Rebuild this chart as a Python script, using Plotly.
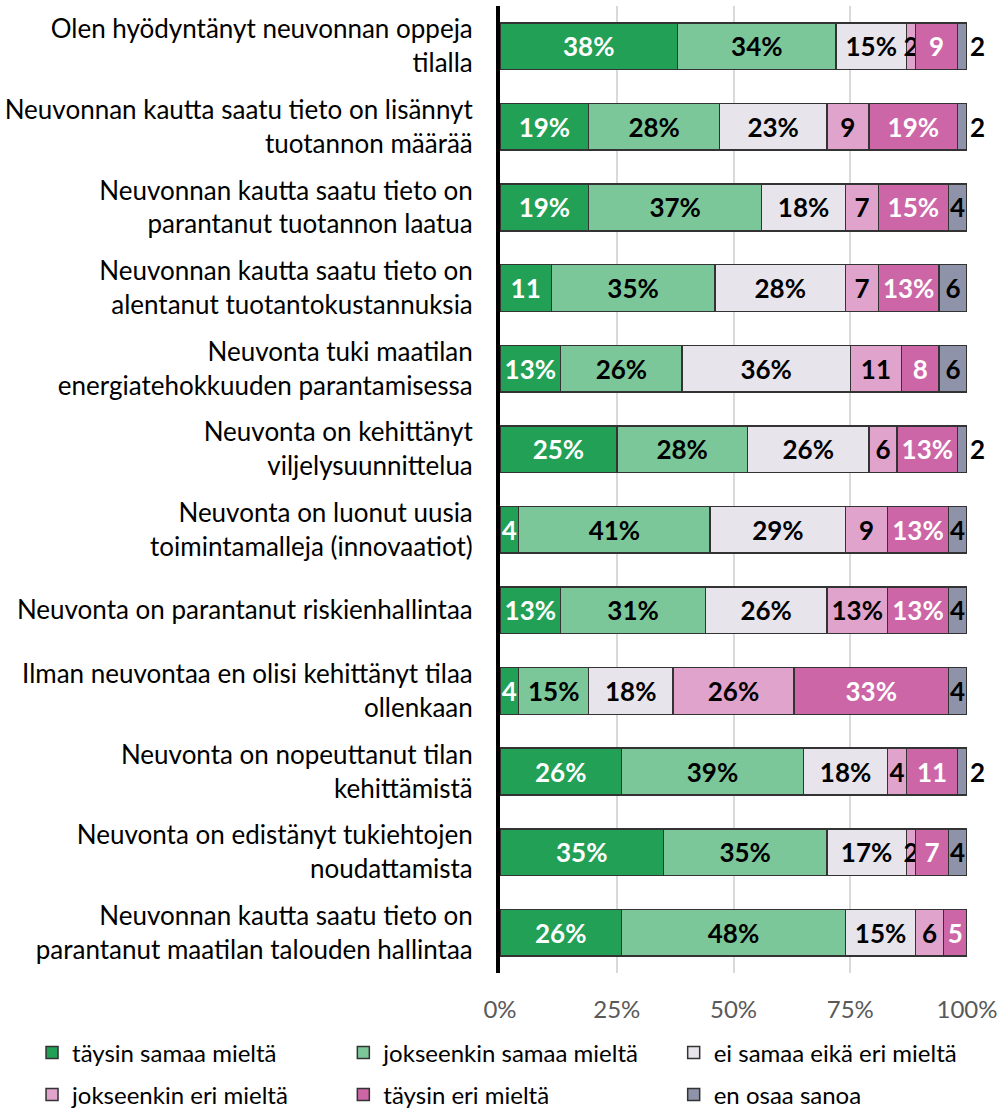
import plotly.graph_objects as go

categories = [
    "Olen hyödyntänyt neuvonnan oppeja<br>tilalla",
    "Neuvonnan kautta saatu tieto on lisännyt<br>tuotannon määrää",
    "Neuvonnan kautta saatu tieto on<br>parantanut tuotannon laatua",
    "Neuvonnan kautta saatu tieto on<br>alentanut tuotantokustannuksia",
    "Neuvonta tuki maatilan<br>energiatehokkuuden parantamisessa",
    "Neuvonta on kehittänyt<br>viljelysuunnittelua",
    "Neuvonta on luonut uusia<br>toimintamalleja (innovaatiot)",
    "Neuvonta on parantanut riskienhallintaa",
    "Ilman neuvontaa en olisi kehittänyt tilaa<br>ollenkaan",
    "Neuvonta on nopeuttanut tilan<br>kehittämistä",
    "Neuvonta on edistänyt tukiehtojen<br>noudattamista",
    "Neuvonnan kautta saatu tieto on<br>parantanut maatilan talouden hallintaa",
]

taysin_samaa = [38, 19, 19, 11, 13, 25, 4, 13, 4, 26, 35, 26]
jokseenkin_samaa = [34, 28, 37, 35, 26, 28, 41, 31, 15, 39, 35, 48]
ei_samaa_eika_eri = [15, 23, 18, 28, 36, 26, 29, 26, 18, 18, 17, 15]
jokseenkin_eri = [2, 9, 7, 7, 11, 6, 9, 13, 26, 4, 2, 6]
taysin_eri = [9, 19, 15, 13, 8, 13, 13, 13, 33, 11, 7, 5]
en_osaa = [2, 2, 4, 6, 6, 2, 4, 4, 4, 2, 4, 0]

series = [
    ("täysin samaa mieltä", taysin_samaa, "#22a055", "white"),
    ("jokseenkin samaa mieltä", jokseenkin_samaa, "#7cc799", "black"),
    ("ei samaa eikä eri mieltä", ei_samaa_eika_eri, "#e7e4ec", "black"),
    ("jokseenkin eri mieltä", jokseenkin_eri, "#e0a3cc", "black"),
    ("täysin eri mieltä", taysin_eri, "#cc66a6", "white"),
    ("en osaa sanoa", en_osaa, "#8e93a9", "black"),
]

FONT = "Lato"

# legend grid: 3 columns x 2 rows (container coordinates)
legend_cols = [0.032, 0.343, 0.673]
legend_rows = [1 - 1053 / 1113, 1 - 1095 / 1113]


def label(v):
    if v == 0:
        return ""
    return f"{v}%" if v >= 12 else str(v)


fig = go.Figure()
layout_legends = {}
for i, (name, vals, color, tcolor) in enumerate(series):
    last = i == len(series) - 1
    positions = ["outside" if (last and v <= 2) else "inside" for v in vals]
    legend_id = "legend" if i == 0 else f"legend{i + 1}"
    fig.add_trace(go.Bar(
        y=categories,
        x=vals,
        name=name,
        orientation="h",
        legend=legend_id,
        marker=dict(color=color, line=dict(color="#333333", width=1.5)),
        text=[label(v) for v in vals],
        textposition=positions,
        insidetextanchor="middle",
        textangle=0,
        insidetextfont=dict(family=FONT, size=26, color=tcolor, weight="bold"),
        outsidetextfont=dict(family=FONT, size=26, color="black", weight="bold"),
        cliponaxis=False,
        hoverinfo="x+name",
    ))
    layout_legends[legend_id] = dict(
        xref="container",
        yref="container",
        x=legend_cols[i % 3],
        y=legend_rows[i // 3],
        xanchor="left",
        yanchor="middle",
        font=dict(family=FONT, size=24, color="black"),
        bgcolor="rgba(0,0,0,0)",
    )

fig.update_layout(
    barmode="stack",
    bargap=0.42,
    width=1001,
    height=1113,
    margin=dict(l=500, r=34, t=6, b=140, autoexpand=False),
    paper_bgcolor="white",
    plot_bgcolor="white",
    font=dict(family=FONT, size=24, color="black"),
    uniformtext=dict(minsize=26, mode="show"),
    showlegend=True,
    **layout_legends,
)

fig.update_xaxes(
    range=[0, 100],
    tickvals=[0, 25, 50, 75, 100],
    ticktext=["0%", "25%", "50%", "75%", "100%"],
    showgrid=True,
    gridcolor="#d9d9d9",
    gridwidth=2,
    zeroline=False,
    showline=False,
    automargin=False,
    tickfont=dict(family=FONT, size=24, color="#595959"),
    ticklabelstandoff=20,
)

fig.update_yaxes(
    autorange="reversed",
    showline=True,
    linecolor="black",
    linewidth=4,
    showgrid=False,
    ticks="",
    automargin=False,
    tickfont=dict(family=FONT, size=26, color="black"),
    ticklabelstandoff=18,
)

# remove the default page margin so the figure sits at the window origin
fig.write_html(
    "out.html",
    config={"displayModeBar": False},
    post_script="document.body.style.margin='0';",
)
